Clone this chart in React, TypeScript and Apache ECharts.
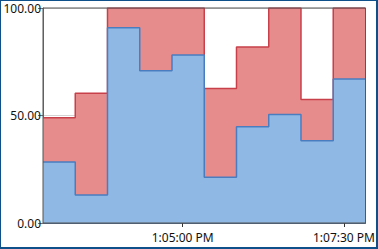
import React, { useEffect, useRef } from "react";
import * as echarts from "echarts";

// Step edges (each value holds from its time until the next one)
const times = [
  "1:02:50 PM", "1:03:20 PM", "1:03:50 PM", "1:04:20 PM", "1:04:50 PM",
  "1:05:20 PM", "1:05:50 PM", "1:06:20 PM", "1:06:50 PM", "1:07:20 PM",
  "1:07:50 PM",
];
const blueValues = [28.4, 13.0, 90.8, 70.8, 78.1, 21.3, 44.8, 50.5, 38.3, 67.0];
const redValues = [20.5, 47.3, 9.2, 29.2, 21.9, 41.3, 37.1, 49.5, 19.1, 33.0];
const xTickLabels = ["1:05:00 PM", "1:07:30 PM"];
const yTicks = [0, 50, 100];

function parseTime(t: string): number {
  const [hms, ampm] = t.split(" ");
  const [h, m, s] = hms.split(":").map(Number);
  let hh = h % 12;
  if (ampm === "PM") hh += 12;
  return (hh - 12) * 3600 + m * 60 + s;
}
function fmtTime(v: number): string {
  const hh = Math.floor(v / 3600);
  const m = Math.floor((v % 3600) / 60);
  const s = Math.round(v % 60);
  const h = hh === 0 ? 12 : hh;
  return `${h}:${String(m).padStart(2, "0")}:${String(s).padStart(2, "0")} PM`;
}

export default function App() {
  const ref = useRef<HTMLDivElement>(null);
  useEffect(() => {
    document.body.style.margin = "0";
    const chart = echarts.init(ref.current!, null, { renderer: "svg" });
    const xs = times.map(parseTime);
    const withLast = (arr: number[]) => [...arr, arr[arr.length - 1]];
    const blue = withLast(blueValues).map((v, i) => [xs[i], v]);
    // stacked top = blue + red
    const totals = blueValues.map((b, i) => +(b + redValues[i]).toFixed(2));
    const red = withLast(totals).map((v, i) => [xs[i], v]);
    const font = "'Segoe UI', 'Noto Sans', sans-serif";
    chart.setOption({
      animation: false,
      grid: {
        left: 43, right: 4, top: 8, bottom: 26,
        show: true, borderColor: "#555", borderWidth: 1, z: 10,
      },
      xAxis: {
        type: "value",
        min: xs[0],
        max: xs[xs.length - 1],
        axisLine: { show: true, lineStyle: { color: "#4a6a8e" } },
        axisTick: {
          show: true, length: 4, customValues: xTickLabels.map(parseTime),
          lineStyle: { color: "#333" },
        },
        axisLabel: {
          customValues: xTickLabels.map(parseTime),
          formatter: (v: number) => fmtTime(v),
          color: "#111", fontSize: 12, fontFamily: font, margin: 8,
        },
        splitLine: { show: false },
      },
      yAxis: {
        type: "value",
        min: 0, max: 100, interval: 50,
        axisLine: { show: true, lineStyle: { color: "#6d6d6d" } },
        axisTick: { show: true, length: 5, lineStyle: { color: "#6d6d6d" } },
        axisLabel: {
          formatter: (v: number) => (yTicks.includes(v) ? v.toFixed(2) : ""),
          color: "#111", fontSize: 12, fontFamily: font, margin: 2,
        },
        splitLine: { show: true, lineStyle: { color: "#d4d4d4", width: 1 } },
      },
      series: [
        {
          name: "red", type: "line", step: "end", symbol: "none",
          data: red,
          lineStyle: { color: "#c8404a", width: 1.5 },
          areaStyle: { color: "#e78c8c", opacity: 1 },
          z: 3,
        },
        {
          name: "blue", type: "line", step: "end", symbol: "none",
          data: blue,
          lineStyle: { color: "#4a7cc0", width: 1.5 },
          areaStyle: { color: "#8fb9e4", opacity: 1 },
          z: 4,
        },
      ],
    });
    return () => chart.dispose();
  }, []);
  return (
    <div style={{ position: "fixed", left: 0, top: 0, width: 378, height: 249, background: "#fff" }}>
      <div ref={ref} style={{ position: "absolute", left: 0, top: 0, width: 378, height: 249 }} />
      <div
        style={{
          position: "absolute", left: 0, top: 0, width: 378, height: 249,
          boxSizing: "border-box", pointerEvents: "none",
          borderTop: "1px solid #0f4f8a", borderLeft: "1px solid #0f4f8a",
          borderRight: "2px solid #0f4f8a", borderBottom: "2px solid #0f4f8a",
        }}
      />
    </div>
  );
}
